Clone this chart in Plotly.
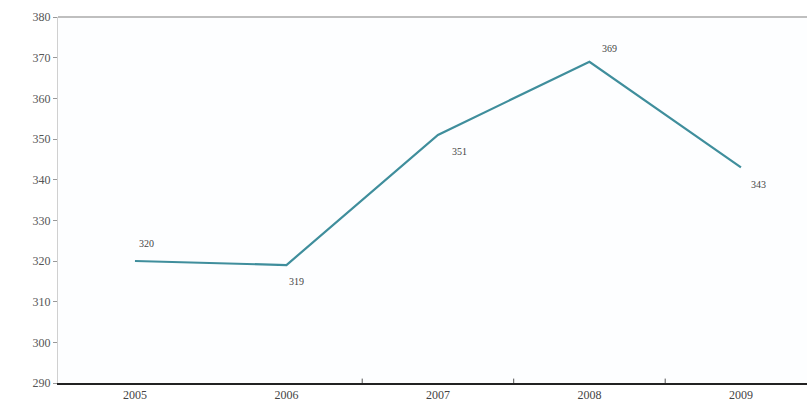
import plotly.graph_objects as go

years = ["2005", "2006", "2007", "2008", "2009"]
values = [320, 319, 351, 369, 343]
y_ticks = [290, 300, 310, 320, 330, 340, 350, 360, 370, 380]
# label offsets in pixels (style)
label_shift = [(12, 18), (10, -16), (22, -17), (20, 13), (18, -17)]

fig = go.Figure()
fig.add_trace(go.Scatter(
    x=years, y=values, mode="lines",
    line=dict(color="#3f8e9c", width=2.2),
    showlegend=False, cliponaxis=False,
))

for i, (v, (dx, dy)) in enumerate(zip(values, label_shift)):
    fig.add_annotation(x=i, y=v, xref="x", yref="y", text=str(v), showarrow=False,
                       xshift=dx, yshift=dy,
                       font=dict(family="Liberation Serif", size=10, color="#444444"))

fig.update_layout(
    width=807, height=412,
    margin=dict(l=58, r=0, t=17, b=29),
    paper_bgcolor="#ffffff", plot_bgcolor="#fdfeff",
    font=dict(family="Liberation Serif", size=12, color="#555555"),
)
fig.update_xaxes(
    type="category", range=[-0.508, 4.436],
    showline=True, linecolor="#222222", linewidth=2,
    showgrid=False, ticks="", tickfont=dict(size=12, color="#444444"),
    zeroline=False,
)
fig.update_yaxes(
    range=[290, 380], tickvals=y_ticks, ticks="outside", ticklen=4,
    tickcolor="#999999", showgrid=False, zeroline=False,
    showline=True, linecolor="#d0d0d0", linewidth=1,
    tickfont=dict(size=12, color="#555555"),
)
fig.add_shape(type="line", xref="paper", yref="paper", x0=0, x1=1, y0=1, y1=1,
              line=dict(color="#aaaaaa", width=1.5))
for b in [1.5, 2.5, 3.5]:
    fig.add_shape(type="line", xref="x", yref="paper", x0=b, x1=b, y0=0, y1=0.012,
                  line=dict(color="#555555", width=1))

fig.write_html("out.html")
